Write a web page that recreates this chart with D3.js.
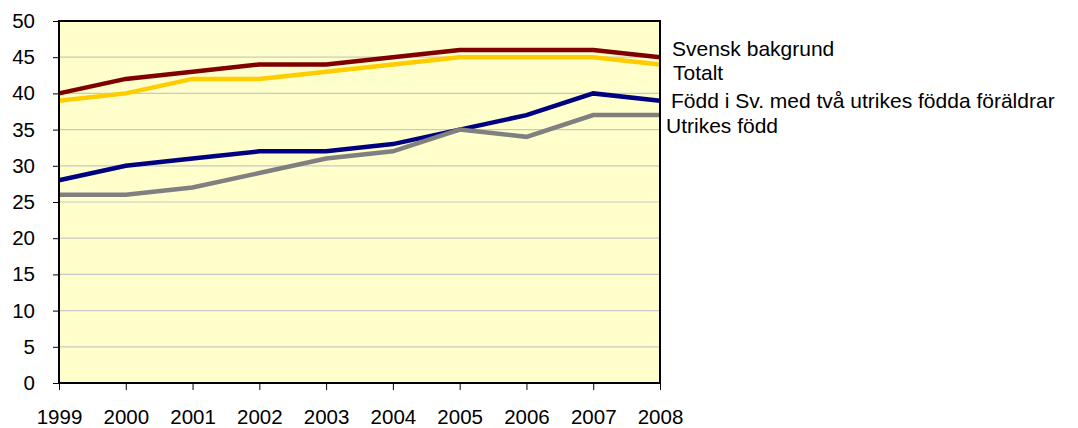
<!DOCTYPE html>
<html lang="sv">
<head>
    <meta charset="UTF-8">
    <title>Andel per bakgrund 1999-2008</title>
    <script src="https://d3js.org/d3.v7.min.js"></script>
    <style>
        body {
            margin: 0;
            background: #ffffff;
            font-family: "Liberation Sans", Arial, sans-serif;
        }
        .axis text {
            font-size: 20.5px;
            fill: #000000;
        }
        .axis line {
            stroke: #000000;
        }
        .axis path {
            display: none;
        }
        .grid line {
            stroke: #c8c8c8;
            stroke-width: 1.2px;
        }
        .label {
            font-size: 21px;
            fill: #000000;
        }
    </style>
</head>
<body>
<svg width="1078" height="428"></svg>
<script>
    // data
    const years = [1999, 2000, 2001, 2002, 2003, 2004, 2005, 2006, 2007, 2008];
    const svensk = [40, 42, 43, 44, 44, 45, 46, 46, 46, 45];
    const totalt = [39, 40, 42, 42, 43, 44, 45, 45, 45, 44];
    const foddSv = [28, 30, 31, 32, 32, 33, 35, 37, 40, 39];
    const utrikes = [26, 26, 27, 29, 31, 32, 35, 34, 37, 37];
    const yTicks = [0, 5, 10, 15, 20, 25, 30, 35, 40, 45, 50];

    const series = [
        { name: "Svensk bakgrund", values: svensk, color: "#800000", dx: 12, dy: -1 },
        { name: "Totalt", values: totalt, color: "#ffcc00", dx: 13, dy: 16 },
        { name: "Född i Sv. med två utrikes födda föräldrar", values: foddSv, color: "#000080", dx: 11, dy: 7.5 },
        { name: "Utrikes född", values: utrikes, color: "#808080", dx: 6, dy: 18 }
    ];

    const margin = { top: 21, right: 418, bottom: 45, left: 59 };
    const width = 1078 - margin.left - margin.right;
    const height = 428 - margin.top - margin.bottom;

    const svg = d3.select("svg")
        .append("g")
        .attr("transform", `translate(${margin.left},${margin.top})`);

    const x = d3.scaleLinear()
        .domain([1999, 2008])
        .range([0, width]);

    const y = d3.scaleLinear()
        .domain([0, 50])
        .range([height, 0]);

    // plot background
    svg.append("rect")
        .attr("width", width)
        .attr("height", height)
        .attr("fill", "#ffffcc");

    // horizontal gridlines
    svg.append("g")
        .attr("class", "grid")
        .selectAll("line")
        .data(yTicks.filter(d => d > 0 && d < 50))
        .enter().append("line")
        .attr("x1", 0)
        .attr("x2", width)
        .attr("y1", d => y(d))
        .attr("y2", d => y(d));

    // lines
    const line = d3.line()
        .x((d, i) => x(years[i]))
        .y(d => y(d));

    svg.selectAll(".series")
        .data(series)
        .enter().append("path")
        .attr("class", "series")
        .attr("fill", "none")
        .attr("stroke", d => d.color)
        .attr("stroke-width", 4.5)
        .attr("d", d => line(d.values));

    // frame
    svg.append("rect")
        .attr("width", width)
        .attr("height", height)
        .attr("fill", "none")
        .attr("stroke", "#000000")
        .attr("stroke-width", 2);

    // axes
    svg.append("g")
        .attr("class", "axis")
        .call(d3.axisLeft(y).tickValues(yTicks).tickSize(6).tickPadding(18))
        .selectAll("line")
        .attr("stroke-width", 1);

    svg.append("g")
        .attr("class", "axis")
        .attr("transform", `translate(0,${height})`)
        .call(d3.axisBottom(x).tickValues(years).tickFormat(d3.format("d")).tickSize(7).tickPadding(19));

    // end labels
    svg.selectAll(".label")
        .data(series)
        .enter().append("text")
        .attr("class", "label")
        .attr("x", d => x(2008) + d.dx)
        .attr("y", d => y(d.values[d.values.length - 1]) + d.dy)
        .text(d => d.name);
</script>
</body>
</html>
